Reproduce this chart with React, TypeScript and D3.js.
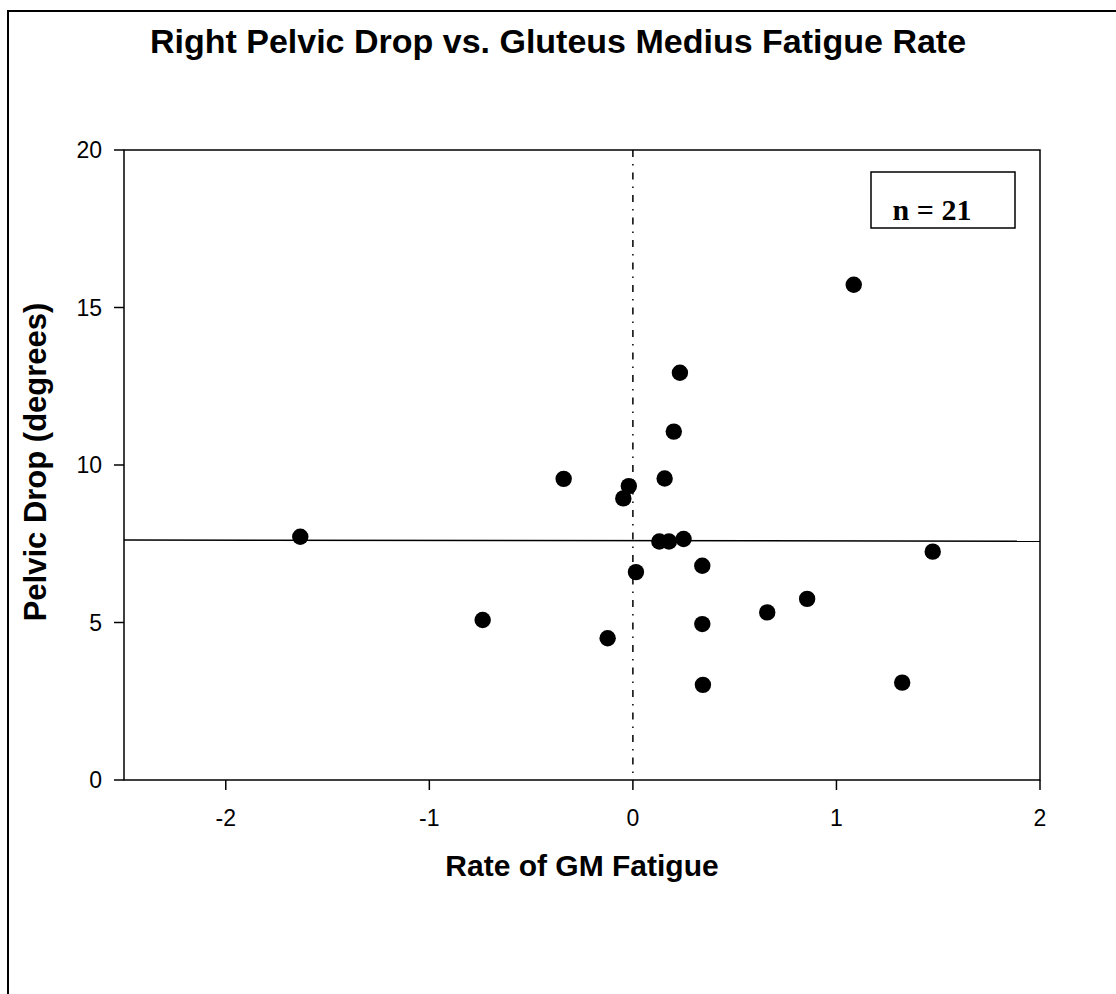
import React from "react";
import * as d3 from "d3";

const rateValues = [-1.634, -0.738, -0.124, 0.015, 0.130, 0.177, 0.249, 0.341, 0.341, 0.344, 0.660, 0.856, 1.323, 1.473, 1.085, 0.231, 0.201, 0.156, -0.020, -0.047, -0.340];
const dropValues = [7.72, 5.08, 4.50, 6.60, 7.57, 7.57, 7.65, 6.80, 4.95, 3.02, 5.32, 5.75, 3.09, 7.25, 15.72, 12.93, 11.06, 9.57, 9.33, 8.94, 9.56];
const xTicks = [-2, -1, 0, 1, 2];
const yTicks = [0, 5, 10, 15, 20];
const fitX = [-2.5, 2];
const fitY = [7.62, 7.58];
const title = "Right Pelvic Drop vs. Gluteus Medius Fatigue Rate";
const xLabel = "Rate of GM Fatigue";
const yLabel = "Pelvic Drop (degrees)";
const nLabel = "n = 21";

export default function App() {
  const W = 1116, H = 994;
  const left = 124, right = 1040, top = 150, bottom = 780;
  const x = d3.scaleLinear().domain([-2.5, 2]).range([left, right]);
  const y = d3.scaleLinear().domain([0, 20]).range([bottom, top]);
  const fitLine = d3.line<number>().x((d) => x(d)).y((_, i) => y(fitY[i]))(fitX) || "";
  const sans = "'Liberation Sans', Arial, sans-serif";
  const serif = "'Liberation Serif', 'Times New Roman', serif";
  return (
    <svg width={W} height={H} style={{ position: "absolute", left: 0, top: 0, display: "block", background: "#fff" }}>
      <rect x={0} y={0} width={W} height={H} fill="#fff" />
      <rect x={8} y={11} width={W + 20} height={H + 20} fill="none" stroke="#000" strokeWidth={2} />
      <text x={558} y={53} textAnchor="middle" fontFamily={sans} fontWeight="bold" fontSize={34}>{title}</text>
      {/* reference zero line */}
      <line x1={x(0)} x2={x(0)} y1={top} y2={bottom} stroke="#000" strokeWidth={1.5} strokeDasharray="7,7,1.5,7" />
      {/* fit line */}
      <path d={fitLine} stroke="#000" strokeWidth={1.5} fill="none" />
      {/* frame */}
      <rect x={left} y={top} width={right - left} height={bottom - top} fill="none" stroke="#000" strokeWidth={1.5} />
      {yTicks.map((t) => (
        <g key={"y" + t}>
          <line x1={left - 10} x2={left} y1={y(t)} y2={y(t)} stroke="#000" strokeWidth={1.5} />
          <text x={left - 22} y={y(t)} dy="0.35em" textAnchor="end" fontFamily={sans} fontSize={23}>{t}</text>
        </g>
      ))}
      {xTicks.map((t) => (
        <g key={"x" + t}>
          <line x1={x(t)} x2={x(t)} y1={bottom} y2={bottom + 10} stroke="#000" strokeWidth={1.5} />
          <text x={x(t)} y={bottom + 46} textAnchor="middle" fontFamily={sans} fontSize={23}>{t}</text>
        </g>
      ))}
      <text x={582} y={876} textAnchor="middle" fontFamily={sans} fontWeight="bold" fontSize={30}>{xLabel}</text>
      <text transform={`translate(46, ${(top + bottom) / 2 - 3}) rotate(-90)`} textAnchor="middle" fontFamily={sans} fontWeight="bold" fontSize={31}>{yLabel}</text>
      {rateValues.map((v, i) => (
        <circle key={i} cx={x(v)} cy={y(dropValues[i])} r={8.2} fill="#000" />
      ))}
      <rect x={871} y={172} width={144} height={56} fill="#fff" stroke="#000" strokeWidth={1.5} />
      <text x={932} y={220} textAnchor="middle" fontFamily={serif} fontWeight="bold" fontSize={30}>{nLabel}</text>
    </svg>
  );
}
